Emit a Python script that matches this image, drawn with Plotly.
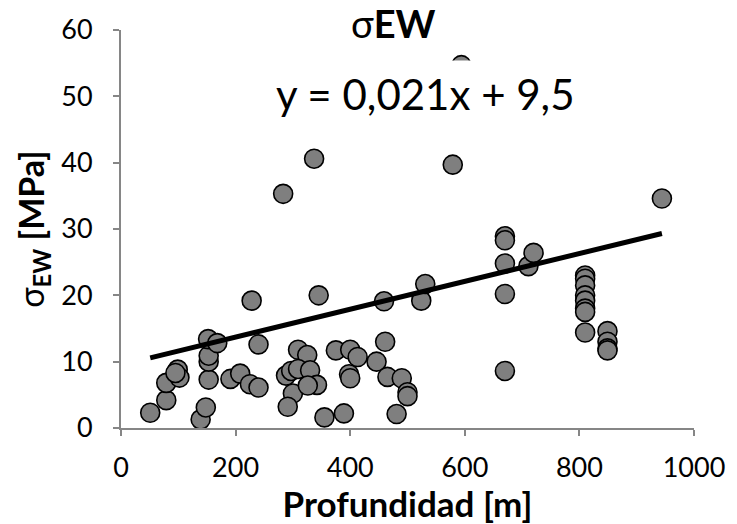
import plotly.graph_objects as go

# Depth [m]
depth = [51, 79, 79, 99, 102, 95, 139, 148, 153, 153, 153, 152, 168,
         191, 208, 225, 240, 240, 228,
         283, 337, 345, 309, 325, 288, 297, 309, 330, 300, 291, 342, 326,
         355, 389, 375, 400, 413, 398, 400, 446, 461, 465, 481, 490, 500, 500,
         459, 524, 531, 579, 594,
         670, 670, 670, 670, 670, 711, 720,
         810, 810, 810, 810, 810, 810, 810, 810,
         849, 849, 849, 849, 944]
# Stress sigma_EW [MPa]
sigma = [2.3, 4.2, 6.8, 8.8, 7.6, 8.3, 1.3, 3.1, 7.3, 10.0, 10.9, 13.4, 12.8,
         7.4, 8.2, 6.6, 6.1, 12.6, 19.2,
         35.3, 40.6, 20.0, 11.8, 11.0, 7.9, 8.6, 8.9, 8.7, 5.2, 3.2, 6.5, 6.4,
         1.6, 2.2, 11.7, 11.8, 10.7, 8.1, 7.5, 10.0, 13.0, 7.7, 2.1, 7.5, 5.4, 4.8,
         19.1, 19.2, 21.7, 39.7, 54.7,
         28.9, 28.3, 24.8, 20.2, 8.6, 24.4, 26.4,
         23.0, 22.5, 21.5, 20.0, 19.2, 18.0, 17.5, 14.4,
         14.6, 13.0, 12.0, 11.7, 34.6]

slope, intercept = 0.021, 9.5
x_line = [min(depth), max(depth)]
y_line = [slope * v + intercept for v in x_line]

FONT = "Lato"
AX = "#868686"

fig = go.Figure()
fig.add_trace(go.Scatter(x=depth, y=sigma, mode="markers",
                         marker=dict(size=19, color="#7f7f7f",
                                     line=dict(color="black", width=1.6)),
                         showlegend=False, hoverinfo="skip"))
fig.add_trace(go.Scatter(x=x_line, y=y_line, mode="lines",
                         line=dict(color="black", width=5),
                         showlegend=False, hoverinfo="skip"))

fig.update_layout(
    width=737, height=524,
    margin=dict(l=121, r=37, t=24, b=96),
    plot_bgcolor="white", paper_bgcolor="white",
    font=dict(family=FONT, color="black", size=27),
    xaxis=dict(range=[0, 1000], dtick=200, tick0=0, showgrid=False,
               zeroline=False, showline=True, linecolor=AX, linewidth=2,
               ticks="outside", tickcolor=AX, ticklen=6, tickwidth=2,
               ticklabelstandoff=9,
               tickfont=dict(size=27, family=FONT),
               title=dict(text="<b>Profundidad [m]</b>", font=dict(size=35, family=FONT),
                          standoff=2)),
    yaxis=dict(range=[0, 60], dtick=10, tick0=0, showgrid=False,
               zeroline=False, showline=True, linecolor=AX, linewidth=2,
               ticks="outside", tickcolor=AX, ticklen=6, tickwidth=2,
               ticklabelstandoff=15,
               tickfont=dict(size=27, family=FONT),
               title=dict(text="σ<sub><b>EW</b></sub><b> [MPa]</b>",
                          font=dict(size=34, family=FONT), standoff=6)),
)

fig.add_annotation(x=0.475, y=1.018, xref="paper", yref="paper",
                   text="σ<b>EW</b>", showarrow=False, yanchor="middle",
                   font=dict(size=38, family=FONT))
fig.add_annotation(x=0.532, y=0.84, xref="paper", yref="paper",
                   text="y = 0,021x + 9,5", showarrow=False, bgcolor="white",
                   borderpad=8, yanchor="middle",
                   font=dict(size=42, family=FONT))

fig.write_html("out.html")
